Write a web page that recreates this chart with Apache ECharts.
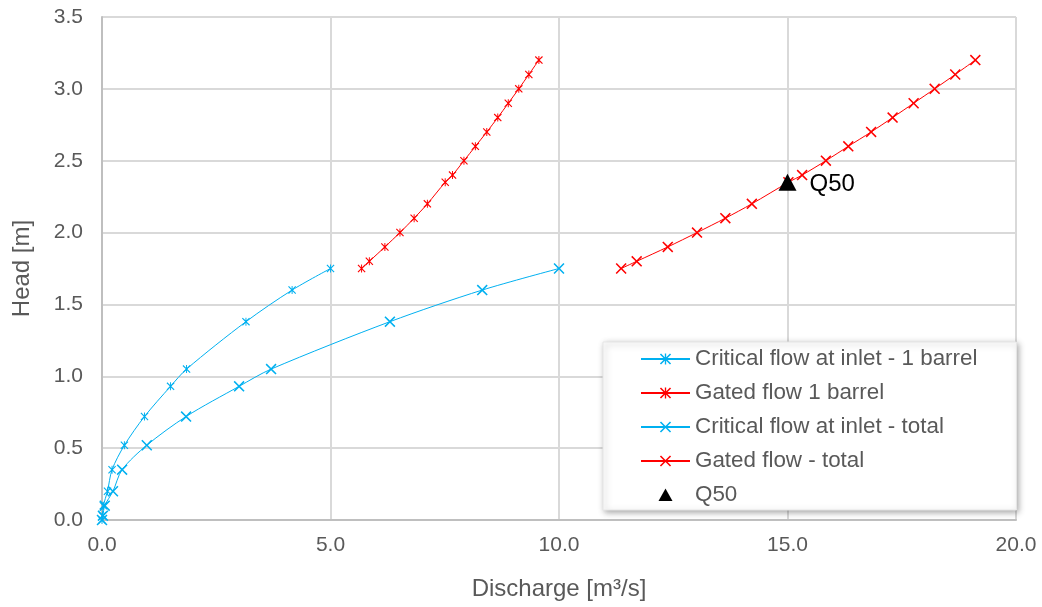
<!DOCTYPE html>
<html>
<head>
<meta charset="utf-8">
<script src="https://cdn.jsdelivr.net/npm/echarts@6/dist/echarts.min.js"></script>
<style>
  html, body { margin: 0; padding: 0; background: #fff; }
  #chart { width: 1042px; height: 607px; }
</style>
</head>
<body>
<div id="chart"></div>
<script>
// Head (m) levels for each rating curve
const criticalHead = [1.75, 1.6, 1.38, 1.05, 0.93, 0.72, 0.52, 0.35, 0.2, 0.1, 0.03, 0];
const gatedHead = [1.75, 1.8, 1.9, 2.0, 2.1, 2.2, 2.35, 2.4, 2.5, 2.6, 2.7, 2.8, 2.9, 3.0, 3.1, 3.2];

// Discharge (m3/s) for each curve
const criticalOneBarrel = [5.0, 4.16, 3.15, 1.85, 1.5, 0.93, 0.49, 0.22, 0.12, 0.03, 0.01, 0];
const criticalTotal = [10.0, 8.32, 6.3, 3.7, 3.0, 1.84, 0.98, 0.44, 0.24, 0.06, 0.02, 0];
const gatedOneBarrel = [5.68, 5.85, 6.19, 6.52, 6.83, 7.12, 7.51, 7.67, 7.92, 8.17, 8.42, 8.66, 8.89, 9.12, 9.34, 9.56];
const gatedTotal = [11.36, 11.7, 12.38, 13.02, 13.64, 14.22, 15.02, 15.32, 15.84, 16.33, 16.83, 17.3, 17.76, 18.22, 18.67, 19.11];

// Design flow point
const q50 = [15.0, 2.35];

const seriesNames = [
  'Critical flow at inlet - 1 barrel',
  'Gated flow 1 barrel',
  'Critical flow at inlet - total',
  'Gated flow - total',
  'Q50'
];

const xTicks = [0, 5, 10, 15, 20];
const yTicks = [0, 0.5, 1, 1.5, 2, 2.5, 3, 3.5];

const BLUE = '#00B0F0';
const RED = '#FF0000';
const GREY_TEXT = '#595959';

// Marker shapes: a cross and an asterisk (cross with a vertical bar)
const CROSS = 'path://M1,0 L5,4 L9,0 L10,1 L6,5 L10,9 L9,10 L5,6 L1,10 L0,9 L4,5 L0,1 Z';
const STAR = 'path://M1,0 L5,4 L9,0 L10,1 L6,5 L10,9 L9,10 L5,6 L1,10 L0,9 L4,5 L0,1 Z M4.4,0 L5.6,0 L5.6,10 L4.4,10 Z';
// Legend triangle kept square inside the wide legend slot (outer move-to points set the box)
const LEGEND_TRIANGLE = 'path://M-24.5,-7 M24.5,7 M0,-6.5 L7,6 L-7,6 Z';

function pairs(xs, ys) {
  return xs.map((x, i) => [x, ys[i]]);
}

function curve(name, xs, ys, color, symbol, size, width) {
  return {
    name: name,
    type: 'line',
    data: pairs(xs, ys),
    smooth: 0.3,
    symbol: symbol,
    symbolSize: size,
    showSymbol: true,
    itemStyle: { color: color },
    lineStyle: { color: color, width: width },
    emphasis: { disabled: true },
    z: 3
  };
}

const chart = echarts.init(document.getElementById('chart'), null, { renderer: 'canvas' });

chart.setOption({
  animation: false,
  backgroundColor: '#ffffff',
  textStyle: { fontFamily: 'Liberation Sans, Arial, sans-serif' },
  grid: { left: 102, right: 26, top: 17, bottom: 87 },
  xAxis: {
    type: 'value',
    min: xTicks[0],
    max: xTicks[xTicks.length - 1],
    interval: xTicks[1] - xTicks[0],
    name: 'Discharge [m³/s]',
    nameLocation: 'middle',
    nameGap: 57,
    nameTextStyle: { fontSize: 24, color: GREY_TEXT },
    axisLine: { show: true, lineStyle: { color: '#bfbfbf', width: 2 } },
    axisTick: { show: false },
    axisLabel: {
      fontSize: 21,
      color: GREY_TEXT,
      margin: 15,
      formatter: v => v.toFixed(1)
    },
    splitLine: { show: true, lineStyle: { color: '#d9d9d9', width: 2 } }
  },
  yAxis: {
    type: 'value',
    min: yTicks[0],
    max: yTicks[yTicks.length - 1],
    interval: yTicks[1] - yTicks[0],
    name: 'Head [m]',
    nameLocation: 'middle',
    nameRotate: 90,
    nameGap: 68,
    nameTextStyle: { fontSize: 24, color: GREY_TEXT },
    axisLine: { show: true, lineStyle: { color: '#bfbfbf', width: 2 } },
    axisTick: { show: false },
    axisLabel: {
      fontSize: 21,
      color: GREY_TEXT,
      margin: 19,
      formatter: v => v.toFixed(1)
    },
    splitLine: { show: true, lineStyle: { color: '#d9d9d9', width: 2 } }
  },
  legend: {
    orient: 'vertical',
    left: 603,
    top: 342,
    data: [
      { name: seriesNames[0] },
      { name: seriesNames[1] },
      { name: seriesNames[2] },
      { name: seriesNames[3] },
      { name: seriesNames[4], icon: LEGEND_TRIANGLE }
    ],
    itemWidth: 49,
    itemHeight: 14,
    itemGap: 12,
    padding: [6, 39, 4, 37],
    backgroundColor: '#ffffff',
    borderColor: '#e6e6e6',
    borderWidth: 1,
    shadowColor: 'rgba(0,0,0,0.35)',
    shadowBlur: 6,
    shadowOffsetX: 2,
    shadowOffsetY: 2,
    textStyle: { fontSize: 22.4, color: GREY_TEXT, lineHeight: 22 },
    selectedMode: false
  },
  series: [
    curve(seriesNames[0], criticalOneBarrel, criticalHead, BLUE, STAR, 8, 1),
    curve(seriesNames[1], gatedOneBarrel, gatedHead, RED, STAR, 8, 1),
    curve(seriesNames[2], criticalTotal, criticalHead, BLUE, CROSS, 11, 1),
    curve(seriesNames[3], gatedTotal, gatedHead, RED, CROSS, 11, 1),
    {
      name: seriesNames[4],
      type: 'scatter',
      data: [q50],
      symbol: 'triangle',
      symbolSize: [18, 17],
      itemStyle: { color: '#000000', opacity: 1 },
      label: {
        show: true,
        position: 'right',
        distance: 13,
        offset: [0, 2],
        formatter: 'Q50',
        fontSize: 24,
        color: '#000000'
      },
      emphasis: { disabled: true },
      z: 5
    }
  ]
});
</script>
</body>
</html>
